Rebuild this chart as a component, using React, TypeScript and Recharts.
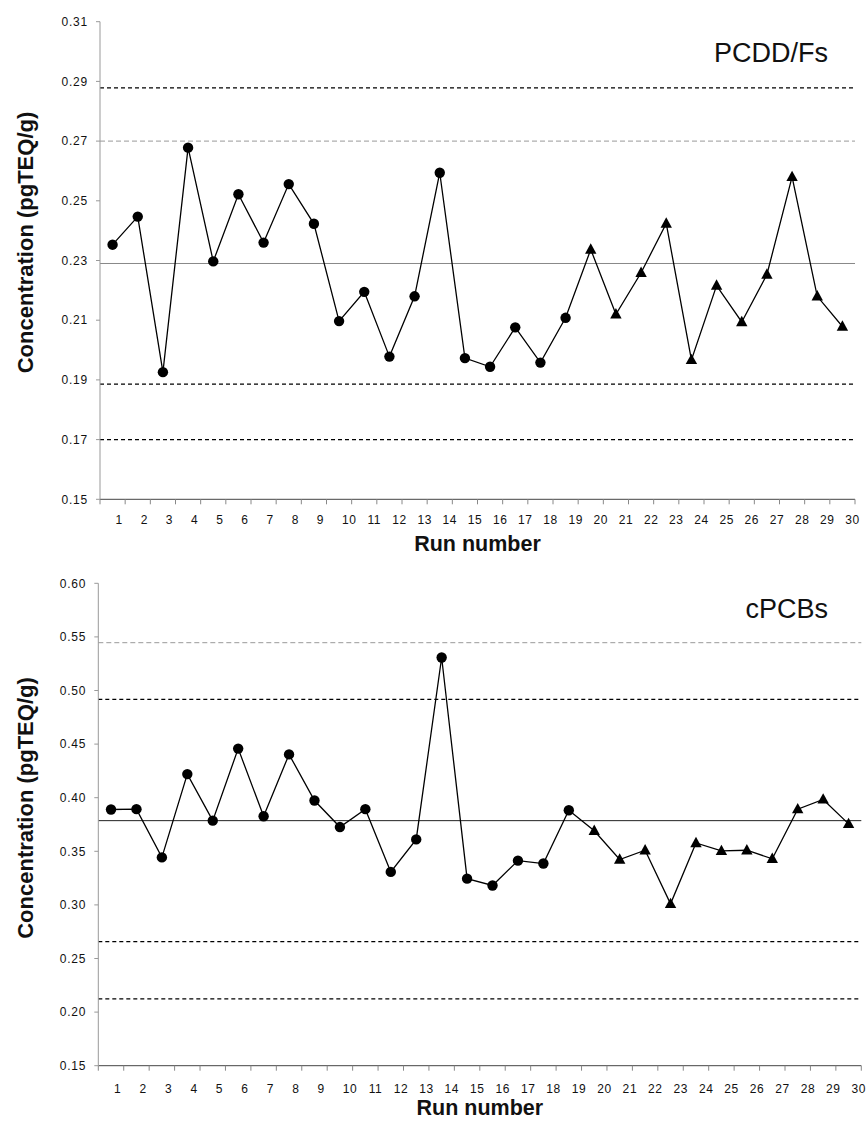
import React from 'react';
import {
  LineChart,
  Line,
  XAxis,
  YAxis,
  ReferenceLine,
} from 'recharts';

// run numbers and measured concentrations (pgTEQ/g)
const runs = [1, 2, 3, 4, 5, 6, 7, 8, 9, 10, 11, 12, 13, 14, 15, 16, 17, 18, 19, 20, 21, 22, 23, 24, 25, 26, 27, 28, 29, 30];

const pcddValues = [
  0.2353, 0.2447, 0.1926, 0.2678, 0.2297, 0.2522, 0.236, 0.2556, 0.2423, 0.2097,
  0.2195, 0.1978, 0.218, 0.2594, 0.1973, 0.1944, 0.2076, 0.1958, 0.2108, 0.2337,
  0.212, 0.2259, 0.2424, 0.1967, 0.2216, 0.2094, 0.2253, 0.258, 0.218, 0.2079,
];

const pcbValues = [
  0.389, 0.3893, 0.3443, 0.422, 0.3786, 0.4458, 0.3827, 0.4404, 0.3974, 0.3726,
  0.3893, 0.3308, 0.3611, 0.5308, 0.3245, 0.3181, 0.3413, 0.3386, 0.3883, 0.3692,
  0.3423, 0.351, 0.301, 0.3578, 0.3504, 0.351, 0.343, 0.3893, 0.3984, 0.3756,
];

// marker used for each run (circles for runs 1-19, triangles for 20-30)
const markerShapes = [
  'circle', 'circle', 'circle', 'circle', 'circle', 'circle', 'circle', 'circle', 'circle', 'circle',
  'circle', 'circle', 'circle', 'circle', 'circle', 'circle', 'circle', 'circle', 'circle', 'triangle',
  'triangle', 'triangle', 'triangle', 'triangle', 'triangle', 'triangle', 'triangle', 'triangle', 'triangle', 'triangle',
];

const pcddTicks = [0.15, 0.17, 0.19, 0.21, 0.23, 0.25, 0.27, 0.29, 0.31];
const pcbTicks = [0.15, 0.2, 0.25, 0.3, 0.35, 0.4, 0.45, 0.5, 0.55, 0.6];

// horizontal control lines, top to bottom
const pcddLimits = [0.2878, 0.27, 0.229, 0.1886, 0.17];
const pcbLimits = [0.5446, 0.4918, 0.3786, 0.2657, 0.2123];

const FONT = '"Liberation Sans", Arial, Helvetica, sans-serif';

const lineLooks: Record<string, any> = {
  black: { stroke: '#000', strokeDasharray: '4 3', strokeWidth: 1.2 },
  gray: { stroke: '#999', strokeDasharray: '5 3', strokeWidth: 1 },
  meanGray: { stroke: '#888', strokeWidth: 1 },
  meanDark: { stroke: '#222', strokeWidth: 1 },
};

const MarkerDot = (props: any) => {
  const { cx, cy, payload } = props;
  if (cx == null || cy == null) return null;
  if (payload.shape === 'triangle') {
    return (
      <polygon
        points={`${cx},${cy - 6.2} ${cx - 5.7},${cy + 4.2} ${cx + 5.7},${cy + 4.2}`}
        fill="#000"
      />
    );
  }
  return <circle cx={cx} cy={cy} r={5.2} fill="#000" />;
};

const RunTick = (props: any) => {
  const { x, y, payload } = props;
  const run = payload.value - 0.5;
  if (run < 1) return null;
  const label = String(run);
  return (
    <text
      x={x + (label.length === 1 ? -6 : -2.5)}
      y={y}
      dy="0.71em"
      textAnchor="middle"
      fontSize={12}
      letterSpacing={0.6}
      fontFamily={FONT}
      fill="#111"
    >
      {label}
    </text>
  );
};

type PanelProps = {
  values: number[];
  ticks: number[];
  limits: number[];
  looks: string[];
  title: string;
  height: number;
  margin: { top: number; right: number; bottom: number; left: number };
  tickGap: number;
  xTitleGap: number;
  yTitleShift: number;
  titleDrop: number;
};

const ControlPanel = (p: PanelProps) => {
  const { values, ticks, limits, looks, title, height, margin } = p;
  const data = runs.map((run, i) => ({ run, value: values[i], shape: markerShapes[i] }));
  const boundaries = [0.5, ...runs.map((r) => r + 0.5)];
  const plotTop = margin.top;
  const plotBottom = height - margin.bottom - 30;
  const plotLeft = margin.left + 60;
  const plotRight = 868 - margin.right;
  const yMid = (plotTop + plotBottom) / 2 + p.yTitleShift;

  return (
    <LineChart width={868} height={height} data={data} margin={margin}>
      <XAxis
        type="number"
        dataKey="run"
        domain={[0.5, 30.5]}
        ticks={boundaries}
        interval={0}
        height={30}
        stroke="#444"
        tickLine={{ stroke: '#888' }}
        tickSize={5}
        tickMargin={p.tickGap}
        tick={<RunTick />}
        allowDataOverflow
      />
      <YAxis
        type="number"
        domain={[ticks[0], ticks[ticks.length - 1]]}
        ticks={ticks}
        interval={0}
        width={60}
        stroke="#999"
        tickSize={4}
        tickMargin={8}
        tickFormatter={(v: number) => v.toFixed(2)}
        tick={{ fill: '#111', fontSize: 12, fontFamily: FONT, letterSpacing: 0.8 }}
        allowDataOverflow
      />
      {limits.map((v, i) => (
        <ReferenceLine key={i} y={v} {...lineLooks[looks[i]]} />
      ))}
      <Line
        type="linear"
        dataKey="value"
        stroke="#000"
        strokeWidth={1.3}
        dot={(d: any) => <MarkerDot key={`d-${d.index}`} {...d} />}
        activeDot={false}
        isAnimationActive={false}
      />
      <text
        x={25}
        y={yMid}
        transform={`rotate(-90, 25, ${yMid})`}
        textAnchor="middle"
        dominantBaseline="central"
        fontSize={22}
        fontWeight="bold"
        fontFamily={FONT}
        fill="#111"
      >
        Concentration (pgTEQ/g)
      </text>
      <text
        x={(plotLeft + plotRight) / 2}
        y={plotBottom + p.xTitleGap}
        textAnchor="middle"
        fontSize={21.5}
        fontWeight="bold"
        fontFamily={FONT}
        fill="#111"
      >
        Run number
      </text>
      <text
        x={828}
        y={plotTop + p.titleDrop}
        textAnchor="end"
        fontSize={27}
        fontFamily={FONT}
        fill="#111"
      >
        {title}
      </text>
    </LineChart>
  );
};

export default function App() {
  return (
    <div style={{ position: 'absolute', left: 0, top: 0, width: 868, height: 1124, background: '#fff' }}>
      <ControlPanel
        values={pcddValues}
        ticks={pcddTicks}
        limits={pcddLimits}
        looks={['black', 'gray', 'meanGray', 'black', 'black']}
        title="PCDD/Fs"
        height={560}
        margin={{ top: 21.7, right: 13, bottom: 30.7, left: 40 }}
        tickGap={11.4}
        xTitleGap={52}
        yTitleShift={-18}
        titleDrop={40}
      />
      <div style={{ position: 'absolute', left: 0, top: 560 }}>
        <ControlPanel
          values={pcbValues}
          ticks={pcbTicks}
          limits={pcbLimits}
          looks={['gray', 'black', 'meanDark', 'black', 'black']}
          title="cPCBs"
          height={564}
          margin={{ top: 23.3, right: 6.7, bottom: 28.3, left: 38.3 }}
          tickGap={14}
          xTitleGap={49}
          yTitleShift={-16.5}
          titleDrop={34.3}
        />
      </div>
    </div>
  );
}
